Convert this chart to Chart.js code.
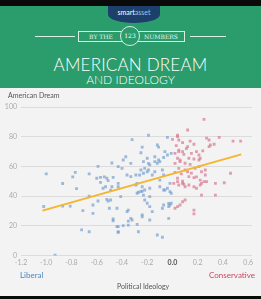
<!DOCTYPE html>
<html>
<head>
<meta charset="utf-8">
<script src="https://cdn.jsdelivr.net/npm/chart.js@4"></script>
<style>
  body { margin: 0; width: 261px; height: 299px; background: #0a0a0a; overflow: hidden; font-family: Lato, "Open Sans", sans-serif; }
  #header { position: absolute; left: 0; top: 6px; width: 261px; height: 82px; background: #2b9c6c; }
  #logo { position: absolute; left: 108px; top: 0; width: 52px; height: 17px; background: #1d3f6c; border-radius: 0 0 50% 50%;
          color: #fff; font-size: 7px; text-align: center; line-height: 13px; }
  #logo span { color: #9cc3e8; }
  .rule { position: absolute; top: 30px; height: 1px; background: #d8efe2; }
  .ribbon { position: absolute; top: 25px; height: 9px; border: 1px solid #d8efe2; color: #e8f6ee;
            font-family: "DejaVu Serif", serif; font-size: 6px; line-height: 9px; text-align: center; }
  #circle { position: absolute; left: 120px; top: 20px; width: 18px; height: 18px; border: 1px solid #d8efe2; border-radius: 50%;
            background: #2b9c6c; color: #fff; font-size: 6px; line-height: 18px; text-align: center; font-family: "DejaVu Serif", serif; }
  #title1 { position: absolute; left: 0; width: 261px; top: 48px; text-align: center; color: #fff; font-size: 17px; font-weight: 300; letter-spacing: 0.2px; }
  #title2 { position: absolute; left: 0; width: 261px; top: 66px; text-align: center; color: #fff; font-size: 12px; font-weight: 300; }
  #panel { position: absolute; left: 0; top: 88px; width: 261px; height: 208px; background: #f3f3f3; }
  #chart { position: absolute; left: 0; top: 0; }
  .lbl { position: absolute; font-size: 7px; white-space: nowrap; }
</style>
</head>
<body>
<div id="header">
  <div id="logo">smart<span>asset</span></div>
  <div class="rule" style="left:35px;width:40px"></div>
  <div class="rule" style="left:190px;width:36px"></div>
  <div class="ribbon" style="left:78px;width:44px">BY THE</div>
  <div class="ribbon" style="left:137px;width:46px">NUMBERS</div>
  <div id="circle">123</div>
  <div id="title1">AMERICAN DREAM</div>
  <div id="title2">AND IDEOLOGY</div>
</div>
<div id="panel">
  <canvas id="chart" width="261" height="208"></canvas>
  <div class="lbl" style="left:8px;top:3px;color:#555">American Dream</div>
  <div class="lbl" style="left:20px;top:182px;color:#4a87c0;font-size:8px">Liberal</div>
  <div class="lbl" style="right:6px;top:182px;color:#c8485f;font-size:8px">Conservative</div>
  <div class="lbl" style="left:117px;top:194px;color:#555">Political Ideology</div>
</div>
<script>
// liberal respondents (blue) as [ideology, american dream]
const liberalPoints = [
  [-1.00,55],[-0.87,48.5],[-0.79,53],[-0.77,56],[-0.76,45],[-0.66,55],[-0.59,60],[-0.60,52],[-0.57,52.6],[-0.54,53],
  [-0.52,52],[-0.47,52.6],[-0.48,62.3],[-0.57,49.3],[-0.51,50.4],[-0.53,46.3],[-0.55,45.3],[-0.49,44],[-0.48,46.3],[-0.43,48.6],
  [-0.66,40],[-0.59,36.7],[-0.52,37.8],[-0.49,37.4],[-0.63,34],[-1.02,33],[-0.87,33.3],[-0.81,33.3],[-0.71,30.2],[-0.63,28.4],
  [-0.51,36.7],[-0.50,31.8],[-0.47,24.6],[-0.47,23.4],[-0.43,19.4],[-0.43,15.6],[-0.72,17.2],[-0.66,16],[-0.93,0.3],
  [-0.19,81],[-0.32,78],[-0.12,74.4],[-0.11,73],[-0.04,79.6],[-0.37,66.5],[-0.39,64.3],[-0.25,69.2],[-0.24,73],[-0.33,62],
  [-0.23,63.2],[-0.20,65.5],[-0.19,62],[-0.18,61],[-0.14,66.5],[-0.14,63.2],[-0.11,64.3],[-0.07,66],[-0.04,67.7],[-0.01,68.8],
  [-0.06,69.9],[-0.43,59.8],[-0.40,58.7],[-0.36,54.2],[-0.33,53.1],[-0.29,54.2],[-0.22,58.7],[-0.20,56.4],[-0.19,57.6],[-0.26,54.2],
  [-0.16,54.2],[-0.14,56.4],[-0.10,50.8],[-0.29,47.5],[-0.43,46.3],[-0.12,62.1],[-0.10,63.2],[-0.08,57.6],[-0.07,54.2],[-0.25,57.6],
  [-0.23,55.4],[-0.28,48.6],[-0.24,46.3],[-0.22,44.1],[-0.18,45.3],[-0.28,41.9],[-0.25,43],[-0.23,40.7],[-0.10,46.3],[-0.07,44.1],
  [-0.04,45.3],[-0.02,48.6],[-0.27,42.6],[-0.24,43.4],[-0.06,44.1],[-0.02,43],[-0.01,41.9],[-0.41,39.6],[-0.22,37.4],[-0.20,35.2],
  [-0.44,31.8],[-0.35,30.6],[-0.36,29.5],[-0.18,32.9],[-0.16,29.5],[-0.07,34],[-0.03,32.9],[-0.02,34],[-0.01,35.2],[-0.03,35],
  [-0.08,31.8],[-0.24,26.1],[-0.33,25],[-0.35,23.2],[-0.18,23.9],[-0.03,25],[-0.44,19.4],[-0.39,20.1],[-0.35,20.5],[-0.28,21],
  [-0.43,16],[-0.27,16],[-0.12,13.8],[-0.08,12.3],[-0.18,39.6],[-0.24,27.3],[-0.32,23.9]
];
// conservative respondents (red)
const conservativePoints = [
  [0.00,78.2],[0.04,81],[0.05,77.8],[0.02,68.8],[0.05,69.9],[0.02,62],[0.06,63.2],[0.25,91.7],[0.12,84.5],[0.04,80],
  [0.27,79],[0.29,77.8],[0.37,79.6],[0.48,77],[0.54,77],[0.14,77],[0.12,73.3],[0.17,74.9],[0.29,73.3],[0.30,74.4],
  [0.33,74.9],[0.05,71],[0.08,69.9],[0.09,68.1],[0.15,68.8],[0.19,69.9],[0.21,67.7],[0.04,65.5],[0.06,64.3],[0.13,65.5],
  [0.17,65],[0.21,64.3],[0.22,65.5],[0.10,62.1],[0.14,61.4],[0.05,58.7],[0.10,57.6],[0.12,56.4],[0.18,58.7],[0.21,59.8],
  [0.23,56.4],[0.26,57.6],[0.26,54.2],[0.13,53.1],[0.17,52.4],[0.46,55.4],[0.41,49],[0.04,52],[0.08,50],[0.09,48],
  [0.22,50.8],[0.23,48.6],[0.27,49.7],[0.01,48.6],[0.04,49.7],[0.05,47.5],[0.08,48.6],[0.10,46.3],[0.13,47.5],[0.17,46.3],
  [0.19,45.3],[0.22,47.5],[0.25,49.7],[0.34,40.7],[0.23,40.7],[0.10,37.4],[0.08,36.2],[0.06,34],[0.04,32.9],[0.02,31.8],
  [0.17,30.6],[0.17,28],[0.34,48.6],[0.02,56],[0.07,55],[0.15,55.5],[0.19,53],[0.11,72],[0.24,70.5],[0.03,74],[0.08,76]
];
// fitted trend line end points
const trendX = [-1.03, 0.545];
const trendY = [30.2, 68.1];

const xTicks = [-1.2, -1.0, -0.8, -0.6, -0.4, -0.2, 0.0, 0.2, 0.4, 0.6];
const yTicks = [0, 20, 40, 60, 80, 100];

const toXY = arr => arr.map(p => ({ x: p[0], y: p[1] }));

new Chart(document.getElementById('chart'), {
  type: 'scatter',
  data: {
    datasets: [
      {
        type: 'line',
        data: trendX.map((x, i) => ({ x: x, y: trendY[i] })),
        borderColor: '#f4b52f',
        borderWidth: 2,
        pointRadius: 0,
        order: 0
      },
      {
        data: toXY(liberalPoints),
        pointStyle: 'rect',
        pointRadius: 2,
        borderWidth: 0,
        backgroundColor: 'rgba(118,160,208,0.7)',
        order: 1
      },
      {
        data: toXY(conservativePoints),
        pointStyle: 'rect',
        pointRadius: 2,
        borderWidth: 0,
        backgroundColor: 'rgba(218,120,142,0.7)',
        order: 1
      }
    ]
  },
  options: {
    responsive: false,
    animation: false,
    devicePixelRatio: 1,
    layout: { padding: { top: 19, right: 9, left: 0, bottom: 0 } },
    plugins: { legend: { display: false }, tooltip: { enabled: false } },
    scales: {
      x: {
        type: 'linear',
        min: -1.2,
        max: 0.63,
        afterBuildTicks: s => { s.ticks = xTicks.map(v => ({ value: v })); },
        afterFit: s => { s.height = 40.5; },
        grid: { display: false, drawTicks: false },
        border: { display: false },
        ticks: {
          padding: 3,
          color: ctx => ctx.tick.value === 0 ? '#555' : '#aaa',
          font: ctx => ({ family: 'Lato', size: 7, weight: ctx.tick && ctx.tick.value === 0 ? 'bold' : 'normal' }),
          callback: v => v.toFixed(1)
        }
      },
      y: {
        min: 0,
        max: 100,
        afterBuildTicks: s => { s.ticks = yTicks.map(v => ({ value: v })); },
        afterFit: s => { s.width = 21; },
        grid: { color: '#dcdcdc', drawTicks: false },
        border: { display: false },
        ticks: { padding: 4, color: '#aaa', font: { family: 'Lato', size: 7 } }
      }
    }
  }
});
</script>
</body>
</html>
